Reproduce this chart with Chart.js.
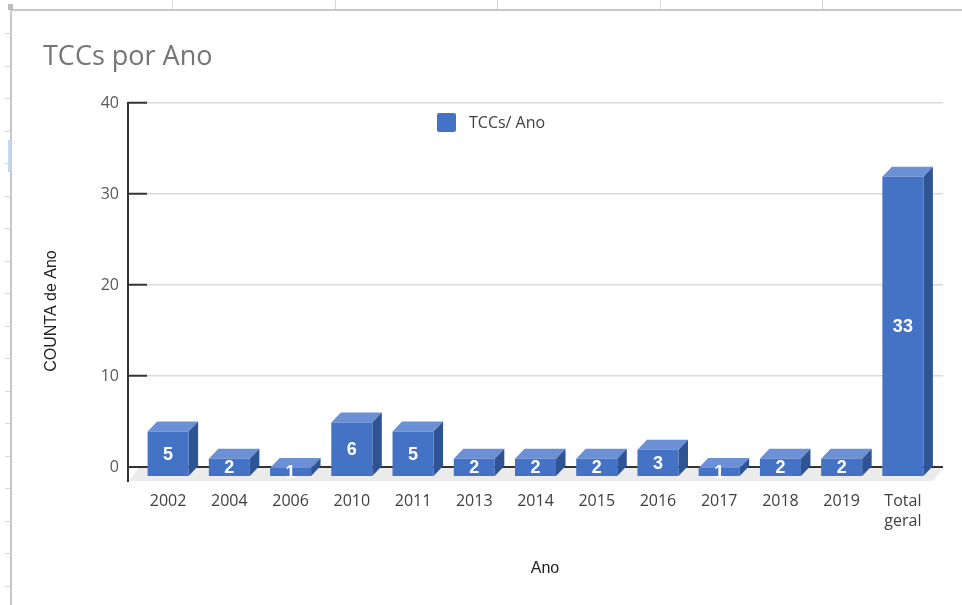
<!DOCTYPE html>
<html lang="pt">
<head>
<meta charset="utf-8">
<title>TCCs por Ano</title>
<script src="https://cdn.jsdelivr.net/npm/chart.js@4.4.1/dist/chart.umd.min.js"></script>
<style>
  html, body { margin: 0; padding: 0; background: #fff; }
  #moldura { position: relative; width: 962px; height: 605px; overflow: hidden; }
  #moldura .linha { position: absolute; background: #c8c8c8; }
  #moldura .marca { position: absolute; background: #d6d6d6; }
  #grafico { position: absolute; left: 0; top: 0; }
</style>
</head>
<body>
<div id="moldura">
  <div class="linha" style="left:10px;top:9px;width:952px;height:2px"></div>
  <div class="linha" style="left:10px;top:9px;width:2px;height:596px"></div>
  <div class="linha" style="left:8px;top:4px;width:5px;height:6px;background:#bdbdbd"></div>
  <div class="marca" style="left:8px;top:140px;width:3px;height:32px;background:#c5d7ef"></div>
  <canvas id="grafico" width="962" height="605"></canvas>
</div>
<script>
// Dados: quantidade de TCCs por ano
const anos = ['2002', '2004', '2006', '2010', '2011', '2013', '2014', '2015', '2016', '2017', '2018', '2019', ['Total', 'geral']];
const tccs = [5, 2, 1, 6, 5, 2, 2, 2, 3, 1, 2, 2, 33];

// Eixo Y
const yMin = 0;
const yMax = 40;
const yPasso = 10;

const tituloY = 'COUNTA de Ano';
const tituloX = 'Ano';
const nomeSerie = 'TCCs/ Ano';

// Cores das faces das barras
const COR_FRENTE = '#4472c4';
const COR_TOPO = '#6b90d6';
const COR_LADO = '#2f5493';

// Profundidade do efeito 3D e tamanho dos tracinhos do eixo Y
const DX = 9.5, DY = 10;
const TICK = 19;

// marcas cinzas da moldura (cabeçalho de colunas / linhas da planilha)
const moldura = document.getElementById('moldura');
[172, 335, 497, 660, 822].forEach(x => {
  const d = document.createElement('div');
  d.className = 'marca';
  d.style.cssText = `left:${x}px;top:0;width:1px;height:9px`;
  moldura.appendChild(d);
});
for (let y = 33; y < 605; y += 32.5) {
  const d = document.createElement('div');
  d.className = 'marca';
  d.style.cssText = `left:5px;top:${Math.round(y)}px;width:5px;height:1px`;
  moldura.appendChild(d);
}

function poligono(ctx, pts) {
  ctx.beginPath();
  ctx.moveTo(pts[0][0], pts[0][1]);
  for (let i = 1; i < pts.length; i++) ctx.lineTo(pts[i][0], pts[i][1]);
  ctx.closePath();
  ctx.fill();
}

// Desenha piso, eixo, tampa/lateral das barras e desloca a face frontal
const efeito3d = {
  id: 'efeito3d',
  beforeDatasetsDraw(chart) {
    const { ctx, chartArea: a, scales: { y } } = chart;
    const y0 = y.getPixelForValue(0);
    const eixoX = a.left - TICK;
    ctx.save();
    // piso
    ctx.fillStyle = '#ebebeb';
    poligono(ctx, [[eixoX + DX + 1, y0 + 1], [a.right, y0 + 1], [a.right - DX, y0 + 14], [eixoX + 1, y0 + 14]]);
    // eixo vertical
    ctx.strokeStyle = '#333';
    ctx.lineWidth = 2;
    ctx.beginPath();
    ctx.moveTo(eixoX, a.top - 1);
    ctx.lineTo(eixoX, y0 + 15);
    ctx.stroke();
    // tampa e lateral de cada barra
    chart.getDatasetMeta(0).data.forEach(bar => {
      const { x, y: topo, base, width } = bar.getProps(['x', 'y', 'base', 'width'], true);
      const l = x - width / 2, r = x + width / 2;
      ctx.fillStyle = COR_TOPO;
      poligono(ctx, [[l, topo], [r, topo], [r - DX, topo + DY], [l - DX, topo + DY]]);
      ctx.fillStyle = COR_LADO;
      poligono(ctx, [[r, topo], [r, base], [r - DX, base + DY], [r - DX, topo + DY]]);
    });
    ctx.restore();
    // a face frontal (desenhada pelo Chart.js) vem um pouco para frente
    ctx.save();
    ctx.translate(-DX, DY);
  },
  afterDatasetsDraw(chart) {
    const { ctx } = chart;
    // valores dentro das barras
    ctx.fillStyle = '#fff';
    ctx.font = 'bold 18px "Liberation Sans", Arial, sans-serif';
    ctx.textAlign = 'center';
    ctx.textBaseline = 'middle';
    chart.getDatasetMeta(0).data.forEach((bar, i) => {
      const { x, y, base } = bar.getProps(['x', 'y', 'base'], true);
      ctx.fillText(String(tccs[i]), x, (y + base) / 2 + 1);
    });
    ctx.restore();
  },
  afterDraw(chart) {
    const { ctx, chartArea: a } = chart;
    const ds = chart.data.datasets[0];
    ctx.save();
    // legenda
    const lx = a.left + 290, ly = a.top + 10;
    ctx.fillStyle = ds.backgroundColor;
    ctx.beginPath();
    ctx.roundRect(lx, ly, 19, 19, 2);
    ctx.fill();
    ctx.fillStyle = '#404040';
    ctx.font = '16px "Open Sans", sans-serif';
    ctx.textAlign = 'left';
    ctx.textBaseline = 'middle';
    ctx.fillText(ds.label, lx + 32, ly + 10);
    // título do eixo Y
    ctx.fillStyle = '#222';
    ctx.font = '16px "Liberation Sans", Arial, sans-serif';
    ctx.textAlign = 'center';
    ctx.translate(a.left - 95, a.bottom - 156);
    ctx.rotate(-Math.PI / 2);
    ctx.fillText(tituloY, 0, 0);
    ctx.restore();
  }
};

new Chart(document.getElementById('grafico'), {
  type: 'bar',
  data: {
    labels: anos,
    datasets: [{
      label: nomeSerie,
      data: tccs,
      backgroundColor: COR_FRENTE,
      borderWidth: 0,
      categoryPercentage: 1,
      barPercentage: 0.67
    }]
  },
  options: {
    responsive: false,
    animation: false,
    layout: { padding: { left: 43, right: 19, top: 0, bottom: 0 } },
    plugins: {
      legend: { display: false },
      tooltip: { enabled: false },
      title: {
        display: true,
        text: 'TCCs por Ano',
        align: 'start',
        color: '#757575',
        font: { family: '"Open Sans", sans-serif', size: 27, weight: 'normal' },
        padding: { top: 41, bottom: 29.6 }
      }
    },
    scales: {
      x: {
        grid: { display: false, drawTicks: false },
        border: { display: false },
        ticks: {
          color: '#404040',
          font: { family: '"Open Sans", sans-serif', size: 16, lineHeight: 1.25 },
          padding: 24,
          labelOffset: -DX,
          maxRotation: 0,
          autoSkip: false
        },
        title: {
          display: true,
          text: tituloX,
          color: '#222',
          font: { family: '"Liberation Sans", Arial, sans-serif', size: 16 },
          padding: { top: 0, bottom: 27 }
        },
        afterFit(s) { s.height = 138; }
      },
      y: {
        min: yMin,
        max: yMax,
        ticks: {
          stepSize: yPasso,
          color: '#595959',
          font: { family: '"Open Sans", sans-serif', size: 16 },
          padding: 9
        },
        grid: {
          color: c => (c.tick && c.tick.value === 0 ? '#333' : '#d9d9d9'),
          lineWidth: c => (c.tick && c.tick.value === 0 ? 2 : 1.5),
          tickColor: '#333',
          tickLength: TICK,
          tickWidth: 2
        },
        border: { display: false },
        afterFit(s) { s.width = 104; }
      }
    }
  },
  plugins: [efeito3d]
});
</script>
</body>
</html>
